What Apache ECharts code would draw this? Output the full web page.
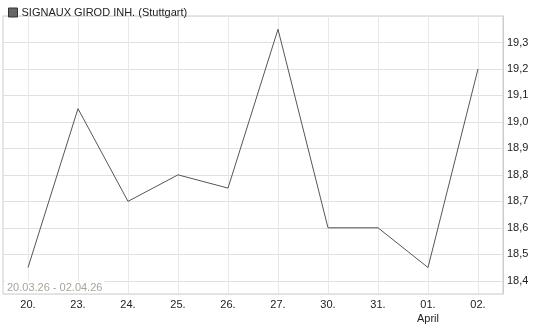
<!DOCTYPE html>
<html><head><meta charset="utf-8">
<script src="https://cdn.jsdelivr.net/npm/echarts@6/dist/echarts.min.js"></script>
<style>html,body{margin:0;padding:0;background:#fff}#c{width:545px;height:327px}</style>
</head><body><div id="c"></div>
<script>
const categories = ['20.', '23.', '24.', '25.', '26.', '27.', '30.', '31.', '01.', '02.'];
const subLabels = ['', '', '', '', '', '', '', '', 'April', ''];
const prices = [18.45, 19.05, 18.70, 18.80, 18.75, 19.35, 18.60, 18.60, 18.45, 19.20];
const seriesName = 'SIGNAUX GIROD INH. (Stuttgart)';
const rangeText = '20.03.26 - 02.04.26';

const chart = echarts.init(document.getElementById('c'));
chart.setOption({
  animation: false,
  textStyle: { fontFamily: 'Liberation Sans, Arial, sans-serif' },
  legend: {
    left: 3, top: 2, itemWidth: 9, itemHeight: 9, itemGap: 5,
    icon: 'rect',
    textStyle: { fontSize: 11, color: '#222', padding: [1, 0, 0, -1] },
    data: [{ name: seriesName, itemStyle: { color: '#666', borderColor: '#333', borderWidth: 1 } }]
  },
  grid: { left: 3, right: 42, top: 16, bottom: 33, show: true, borderColor: '#ccc', borderWidth: 1, backgroundColor: 'transparent' },
  xAxis: {
    type: 'category', data: categories, boundaryGap: true,
    axisLine: { show: false }, axisTick: { show: false },
    splitLine: { show: true, alignWithLabel: true, lineStyle: { color: '#e8e8e8', width: 1 } },
    axisLabel: {
      color: '#222', fontSize: 11, margin: 4, lineHeight: 14,
      formatter: function (v, i) { return subLabels[i] ? v + '\n' + subLabels[i] : v; }
    }
  },
  yAxis: {
    type: 'value', position: 'right', min: 18.35, max: 19.4, splitNumber: 10,
    axisLine: { show: true, lineStyle: { color: '#ccc' } }, axisTick: { show: false },
    splitLine: { show: true, lineStyle: { color: '#e0e0e0' } },
    axisLabel: {
      color: '#222', fontSize: 11, margin: 4, showMaxLabel: false, showMinLabel: false,
      formatter: function (v) { return v.toFixed(1).replace('.', ','); }
    }
  },
  graphic: [{
    type: 'text', left: 5, top: 281, z: 10,
    style: { text: rangeText, fill: '#a9a49c', fontSize: 11, fontFamily: 'Liberation Sans, Arial, sans-serif',
             backgroundColor: '#fff', padding: [1, 2, 0, 2] }
  }],
  series: [{
    name: seriesName, type: 'line', data: prices, symbol: 'none',
    lineStyle: { color: '#555', width: 1 },
    itemStyle: { color: '#666' }
  }]
});
</script></body></html>
